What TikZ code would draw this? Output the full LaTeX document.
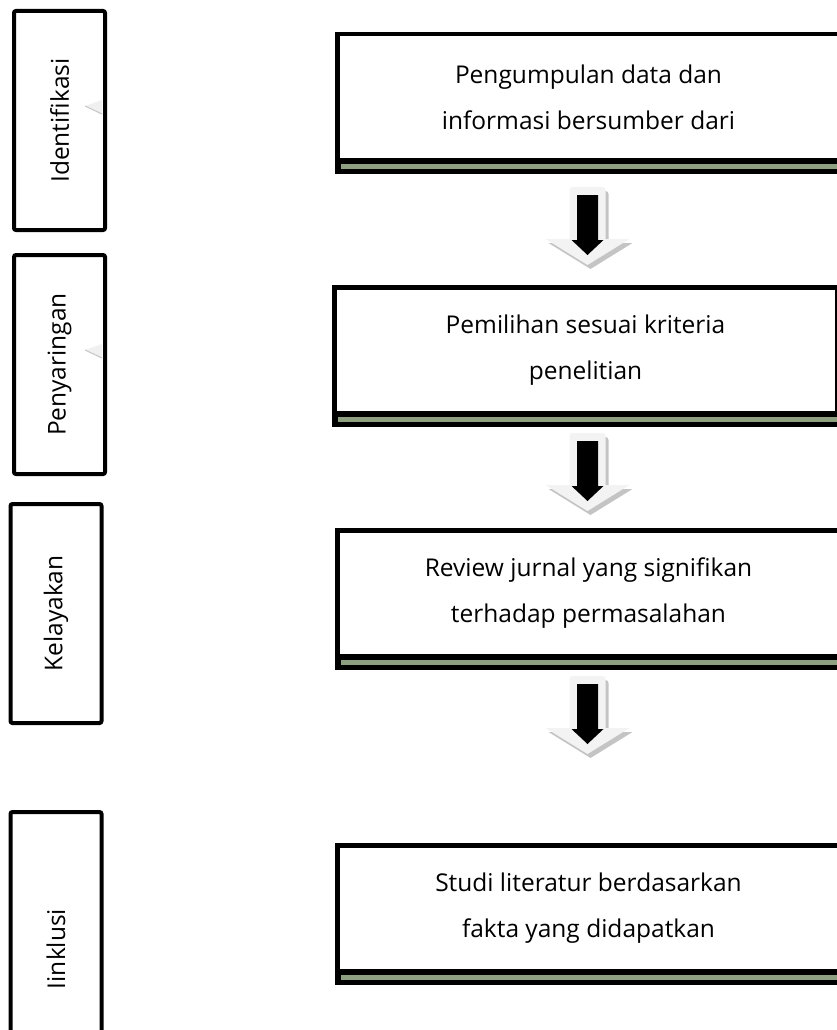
\documentclass[tikz,border=0pt]{standalone}
\usepackage{fontspec}
\setmainfont{Open Sans}
\usepackage{graphicx}
\usepackage{tikz}
\usetikzlibrary{positioning, calc}

\definecolor{stripegreen}{RGB}{143,160,128}
\definecolor{arrowlight}{RGB}{243,243,243}
\definecolor{arrowshade}{RGB}{196,196,196}

\begin{document}
\begin{tikzpicture}[
    x=1pt, y=-1pt,
    sidebox/.style={rectangle, draw, line width=4pt, rounded corners=2pt, minimum width=91pt, minimum height=219pt, inner sep=0pt, font=\fontsize{24.5}{28}\selectfont},
    stepbox/.style={rectangle, draw, fill=white, line width=4.5pt, minimum width=502.5pt, minimum height=125.5pt, align=center, font=\fontsize{24.5}{46}\selectfont},
    flowarrow/.pic={
        \fill[arrowshade, shift={(3pt,-4pt)}] (-18,26) [rounded corners=3pt] -- (-18,0) -- (18,0) [sharp corners] -- (18,52) -- (42,52) -- (0,78) -- (-42,52) -- (-18,52) -- cycle;
        \fill[arrowlight] (-18,26) [rounded corners=3pt] -- (-18,0) -- (18,0) [sharp corners] -- (18,52) -- (42,52) -- (0,78) -- (-42,52) -- (-18,52) -- cycle;
        \fill[black] (-10.5,8) -- (10.5,8) -- (10.5,53) -- (16,53) -- (0,68) -- (-16,53) -- (-10.5,53) -- cycle;
    }
]
\useasboundingbox (0,0) rectangle (837,1030);

% Stages on the left
\node[sidebox] (idf) at (59.5,120.5) {\rotatebox{90}{Identifikasi}};
\node[sidebox, below=21pt of idf] (pny) {\rotatebox{90}{Penyaringan}};
\node[sidebox, below=26pt of pny, xshift=-3.5pt] (klk) {\rotatebox{90}{Kelayakan}};
\node[sidebox, below=85pt of klk, minimum height=274pt] (ink) {\rotatebox{90}{Iinklusi}};

% small marks inside the first two stages
\fill[gray!12] ([shift={(-5pt,20.5pt)}]idf.east) -- ([shift={(-22pt,14.5pt)}]idf.east) -- ([shift={(-5pt,5.5pt)}]idf.east) -- cycle;
\draw[gray!45, line width=1pt] ([shift={(-22pt,14.5pt)}]idf.east) -- ([shift={(-5pt,6.5pt)}]idf.east);
\fill[gray!12] ([shift={(-5pt,20.5pt)}]pny.east) -- ([shift={(-22pt,14.5pt)}]pny.east) -- ([shift={(-5pt,5.5pt)}]pny.east) -- cycle;
\draw[gray!45, line width=1pt] ([shift={(-22pt,14.5pt)}]pny.east) -- ([shift={(-5pt,6.5pt)}]pny.east);

% Steps on the right
\node[stepbox] (s1) at (588.5,97) {Pengumpulan data dan\\informasi bersumber dari};
\node[stepbox, below=123pt of s1, xshift=-3pt] (s2) {Pemilihan sesuai kriteria\\penelitian};
\node[stepbox, below=113pt of s2, xshift=3pt] (s3) {Review jurnal yang signifikan\\terhadap permasalahan};
\node[stepbox, below=185pt of s3] (s4) {Studi literatur berdasarkan\\fakta yang didapatkan};

% thick-thin frame under and right of each step
\foreach \n in {s1,s2,s3,s4} {
    \fill[black] (\n.south west) rectangle ([shift={(12pt,-12pt)}]\n.south east);
    \fill[black] ([yshift=-6pt]\n.north east) rectangle ([shift={(12pt,-12pt)}]\n.south east);
    \fill[stripegreen] ([shift={(6pt,-2pt)}]\n.south west) rectangle ([shift={(7pt,-7pt)}]\n.south east);
    \fill[stripegreen] ([shift={(2pt,-8pt)}]\n.north east) rectangle ([shift={(7pt,-7pt)}]\n.south east);
}

% Arrows between steps
\pic at ($(s1.south)+(-1pt,-25pt)$) {flowarrow};
\pic at ($(s2.south)+(2pt,-18pt)$) {flowarrow};
\pic at ($(s3.south)+(-1pt,-18pt)$) {flowarrow};

\end{tikzpicture}
\end{document}
